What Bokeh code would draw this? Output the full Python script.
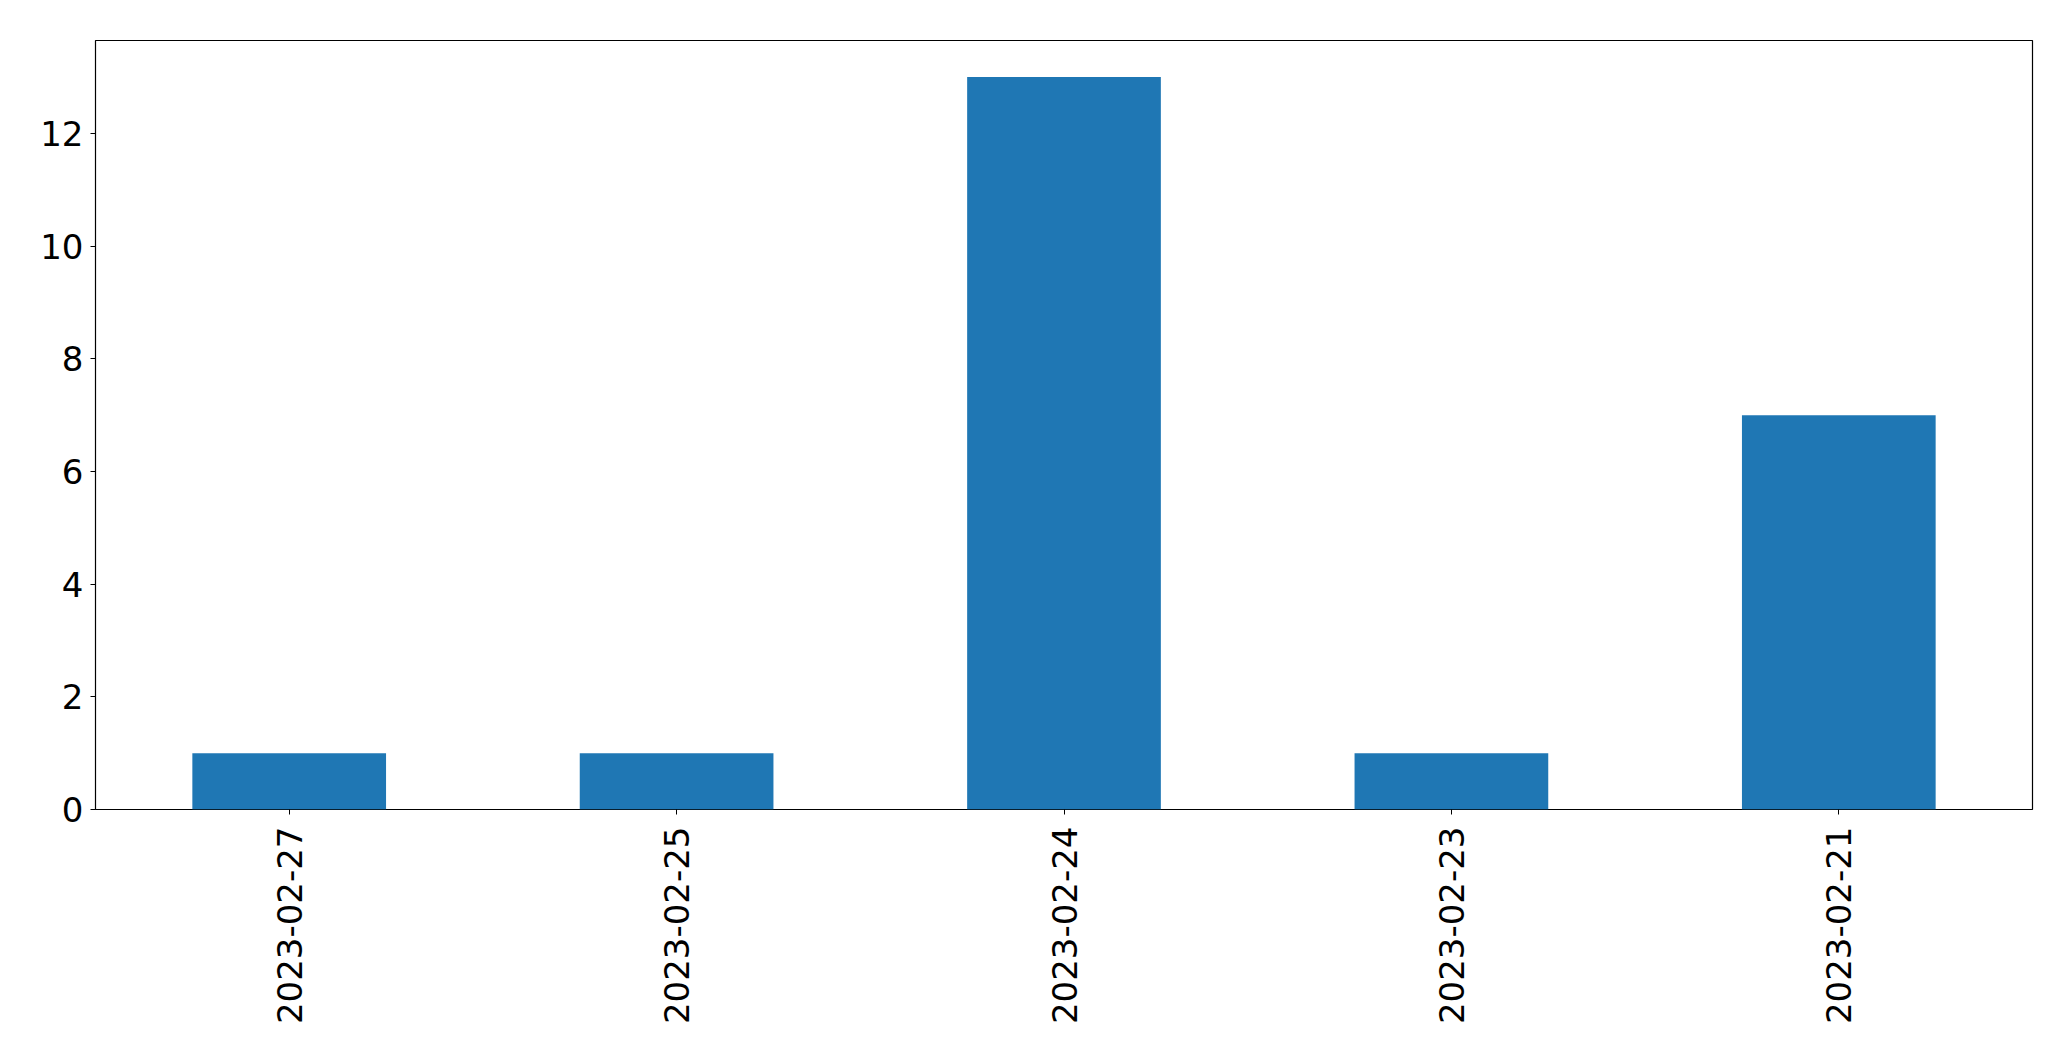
import math
from bokeh.plotting import figure
from bokeh.models import FactorRange, Range1d, FixedTicker, ColumnDataSource
from bokeh.embed import file_html
from bokeh.resources import INLINE

dates = ["2023-02-27", "2023-02-25", "2023-02-24", "2023-02-23", "2023-02-21"]
counts = [1, 1, 13, 1, 7]
y_ticks = [0, 2, 4, 6, 8, 10, 12]

source = ColumnDataSource(data=dict(date=dates, count=counts))

p = figure(
    x_range=FactorRange(factors=dates, range_padding=0),
    y_range=Range1d(0, max(counts) * 1.05),
    width=2055, height=1045,
    output_backend="svg", toolbar_location=None,
    min_border_left=95, min_border_top=40, min_border_right=23, min_border_bottom=236,
)

p.vbar(x="date", top="count", width=0.5, source=source,
       fill_color="#1f77b4", line_color=None)

p.xgrid.grid_line_color = None
p.ygrid.grid_line_color = None
p.outline_line_color = "black"
p.outline_line_alpha = 1
p.outline_line_width = 1.2
p.background_fill_color = "white"
p.border_fill_color = "white"

for ax in (p.xaxis, p.yaxis):
    ax.axis_line_color = None
    ax.major_tick_in = 0
    ax.major_tick_out = 5
    ax.major_tick_line_color = "black"
    ax.major_tick_line_width = 1
    ax.minor_tick_line_color = None
    ax.major_label_text_font = "DejaVu Sans"
    ax.major_label_text_font_size = "34px"
    ax.major_label_text_color = "black"

p.yaxis.ticker = FixedTicker(ticks=y_ticks)
p.yaxis.major_label_standoff = 7
p.xaxis.major_label_orientation = math.pi / 2
p.xaxis.major_label_standoff = 12

open("out.html", "w").write(file_html(p, INLINE))
